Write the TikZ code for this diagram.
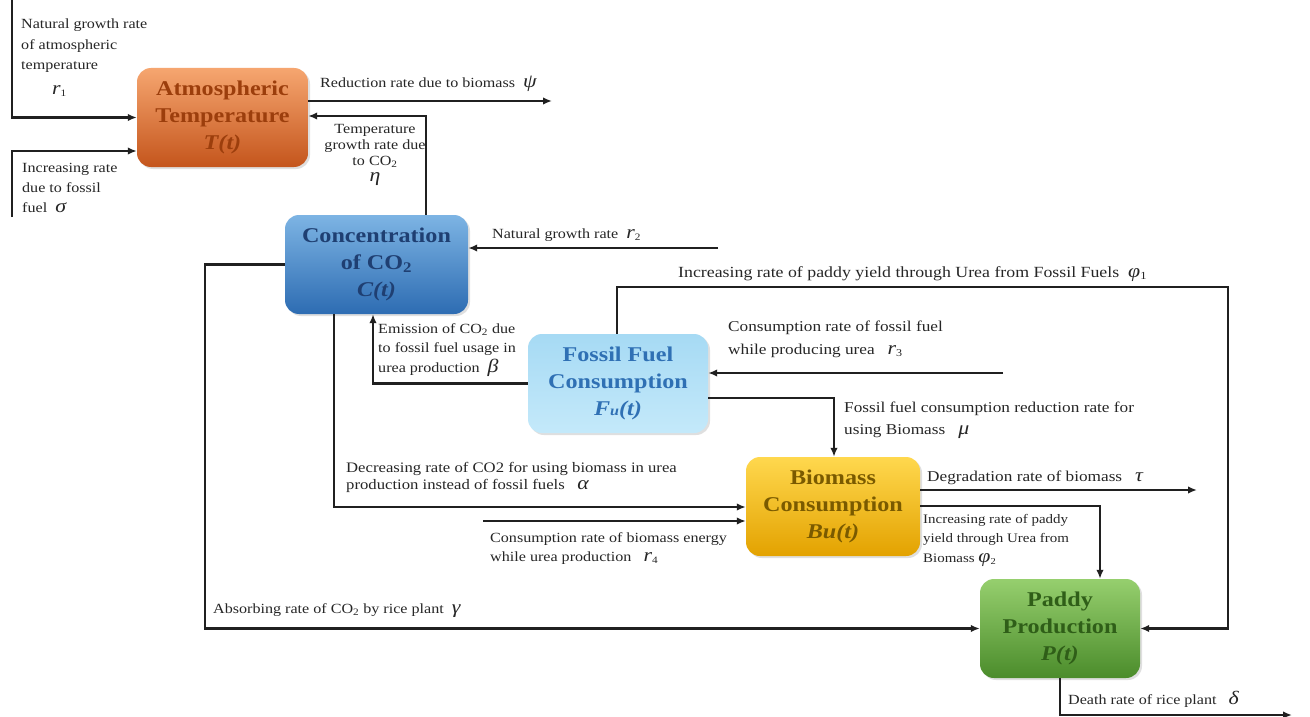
\documentclass[tikz,border=0pt]{standalone}
\usepackage{fontspec}
\setmainfont[FakeStretch=1.15]{Liberation Serif}
\usetikzlibrary{arrows.meta,shadows}
\newcommand{\sy}[1]{{\fontsize{19}{19}\selectfont\itshape #1}}
\newcommand{\lblfont}{\fontsize{14}{19}\selectfont}
\newcommand{\ttlfont}{\fontsize{21}{27}\selectfont\bfseries}
\definecolor{linec}{HTML}{202020}
\definecolor{orT}{HTML}{F6A670}\definecolor{orB}{HTML}{C4551C}\definecolor{orX}{HTML}{9C3E0C}
\definecolor{blT}{HTML}{7DB4E4}\definecolor{blB}{HTML}{2D6CB2}\definecolor{blX}{HTML}{1F3F72}
\definecolor{lbT}{HTML}{A6DAF4}\definecolor{lbB}{HTML}{C4E9FA}\definecolor{lbX}{HTML}{2F70B4}
\definecolor{yeT}{HTML}{FFD84E}\definecolor{yeB}{HTML}{E3A200}\definecolor{yeX}{HTML}{7A5A00}
\definecolor{grT}{HTML}{96CF6E}\definecolor{grB}{HTML}{4B8C2B}\definecolor{grX}{HTML}{2F5E18}
\tikzset{
  box/.style={rounded corners=14pt, minimum height=99pt, align=center, inner sep=2pt,
    font=\ttlfont, drop shadow={opacity=0.25, shadow xshift=2pt, shadow yshift=-2pt}},
  arr/.style={line width=2.2pt, draw=linec, -{Latex[length=9pt,width=7.5pt]}},
  lbl/.style={font=\lblfont, inner sep=0pt, align=left, text=black!85}
}
\begin{document}
\begin{tikzpicture}[x=1pt,y=-1pt]
\useasboundingbox[fill=white] (0,0) rectangle (1310,717);
% boxes
\node[box, top color=orT, bottom color=orB, text=orX, minimum width=171pt] (T) at (222.5,117.5)
  {Atmospheric\\Temperature\\\textit{T(t)}};
\node[box, top color=blT, bottom color=blB, text=blX, minimum width=183pt] (C) at (376.5,264.5)
  {Concentration\\of CO\textsubscript{2}\\\textit{C(t)}};
\node[box, top color=lbT, bottom color=lbB, text=lbX, minimum width=180pt] (F) at (618,383.5)
  {Fossil Fuel\\Consumption\\\textit{F{\fontsize{14}{14}\selectfont u}(t)}};
\node[box, top color=yeT, bottom color=yeB, text=yeX, minimum width=174pt] (B) at (833,506.5)
  {Biomass\\Consumption\\\textit{Bu(t)}};
\node[box, top color=grT, bottom color=grB, text=grX, minimum width=160pt] (P) at (1060,628.5)
  {Paddy\\Production\\\textit{P(t)}};
% coordinates
\coordinate (s1) at (12,0);   \coordinate (k1) at (12,117.5);
\coordinate (s2) at (12,217); \coordinate (k2) at (12,151);
\coordinate (e3) at (552,101);
\coordinate (k4) at (426,116);
\coordinate (s5) at (718,248);
\coordinate (k6) at (205,264.5);
\coordinate (k7) at (334,507);
\coordinate (s8) at (483,521);
\coordinate (k9) at (373,383.5);
\coordinate (k10a) at (617,287); \coordinate (k10b) at (1228,287);
\coordinate (s11) at (1003,373);
\coordinate (k12) at (834,398);
\coordinate (e13) at (1197,490);
\coordinate (k14) at (1100,506);
\coordinate (k15) at (1060,715); \coordinate (e15) at (1292,715);
% connectors
\draw[arr] (s1) -- (k1) -- (T.west);
\draw[arr] (s2) -- (k2) -- (k2 -| T.west);
\draw[arr] (e3 -| T.east) -- (e3);
\draw[arr] (k4 |- C.north) -- (k4) -- (k4 -| T.east);
\draw[arr] (s5) -- (s5 -| C.east);
\draw[arr] (C.west) -- (k6) -- (k6 |- P.west) -- (P.west);
\draw[arr] (k7 |- C.south) -- (k7) -- (k7 -| B.west);
\draw[arr] (s8) -- (s8 -| B.west);
\draw[arr] (F.west) -- (k9) -- (k9 |- C.south);
\draw[arr] (k10a |- F.north) -- (k10a) -- (k10b) -- (k10b |- P.east) -- (P.east);
\draw[arr] (s11) -- (s11 -| F.east);
\draw[arr] (k12 -| F.east) -- (k12) -- (k12 |- B.north);
\draw[arr] (e13 -| B.east) -- (e13);
\draw[arr] (k14 -| B.east) -- (k14) -- (k14 |- P.north);
\draw[arr] (P.south) -- (k15) -- (e15);
% labels
\node[lbl, anchor=north west, font=\fontsize{14}{20.5}\selectfont] (l1) at (21,19)
  {Natural growth rate\\of atmospheric\\temperature\\[4pt]\hspace{2.2em}\sy{r}\textsubscript{1}};
\node[lbl, anchor=north west, font=\fontsize{14}{20}\selectfont] (l2) at (22,163)
  {Increasing rate\\due to fossil\\fuel \ \sy{σ}};
\node[lbl, anchor=base west] (l3) at (320,88) {Reduction rate due to biomass \ \sy{ψ}};
\node[lbl, anchor=north, align=center, font=\fontsize{14}{16}\selectfont] (l4) at (375,124)
  {Temperature\\growth rate due\\to CO\textsubscript{2}\\\sy{η}};
\node[lbl, anchor=base west] (l5) at (492,238) {Natural growth rate \ \sy{r}\textsubscript{2}};
\node[lbl, anchor=base west] (l6) at (213,613) {Absorbing rate of CO\textsubscript{2} by rice plant \ \sy{γ}};
\node[lbl, anchor=north west, font=\fontsize{14.5}{17}\selectfont] (l7) at (346,462)
  {Decreasing rate of CO2 for using biomass in urea\\production instead of fossil fuels \ \ \sy{α}};
\node[lbl, anchor=north west] (l8) at (490,532)
  {Consumption rate of biomass energy\\while urea production \ \ \sy{r}\textsubscript{4}};
\node[lbl, anchor=north west, font=\fontsize{14}{19.5}\selectfont] (l9) at (378,323)
  {Emission of CO\textsubscript{2} due\\to fossil fuel usage in\\urea production \ \sy{β}};
\node[lbl, anchor=base west, font=\fontsize{15.5}{18}\selectfont] (l10) at (678,277)
  {Increasing rate of paddy yield through Urea from Fossil Fuels \ \sy{φ}\textsubscript{1}};
\node[lbl, anchor=north west, font=\fontsize{15}{23}\selectfont] (l11) at (728,321)
  {Consumption rate of fossil fuel\\while producing urea \ \ \sy{r}\textsubscript{3}};
\node[lbl, anchor=north west, font=\fontsize{15}{22}\selectfont] (l12) at (844,402)
  {Fossil fuel consumption reduction rate for\\using Biomass \ \ \sy{μ}};
\node[lbl, anchor=base west, font=\fontsize{15}{18}\selectfont] (l13) at (927,481) {Degradation rate of biomass \ \ \sy{τ}};
\node[lbl, anchor=north west, font=\fontsize{13}{19.5}\selectfont] (l14) at (923,514)
  {Increasing rate of paddy\\yield through Urea from\\Biomass \sy{φ}\textsubscript{2}};
\node[lbl, anchor=base west] (l15) at (1068,704) {Death rate of rice plant \ \ \sy{δ}};
\end{tikzpicture}
\end{document}
